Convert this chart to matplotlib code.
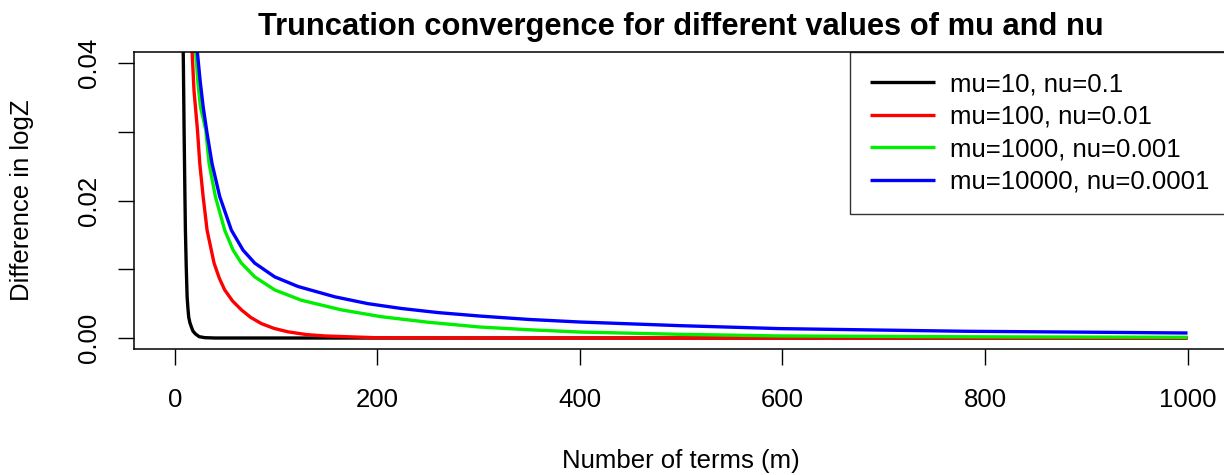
import matplotlib
matplotlib.use("Agg")
import matplotlib.pyplot as plt

# ---- data ----
black_x = [7, 8, 8.5, 9.2, 10, 10.5, 11.3, 12.2, 13, 13.8, 15, 16.4, 18, 20.4, 24, 29.6, 40, 1000]
black_y = [0.060, 0.045, 0.040, 0.0303, 0.021, 0.0157, 0.0105, 0.0060, 0.0043, 0.0030, 0.0022,
           0.0016, 0.0010, 0.0006, 0.0002, 0.00005, 0.0, 0.0]

red_x = [15, 17, 19, 22.4, 24.7, 28, 31.9, 38.8, 44, 49.3, 57, 65.8, 75, 85.5, 98, 111.8, 130,
         148, 197, 300, 1000]
red_y = [0.052, 0.042, 0.036, 0.0303, 0.0254, 0.0206, 0.0157, 0.0109, 0.0087, 0.0070, 0.0054,
         0.0041, 0.0030, 0.0021, 0.0014, 0.0009, 0.0005, 0.0003, 0.00005, 0.0, 0.0]

green_x = [18, 20.7, 23, 25.3, 28, 30.6, 33.9, 40.1, 49.3, 57.6, 65.8, 79, 98.7, 125, 164.5,
           204, 250, 301, 350, 400, 498, 597, 781, 1000]
green_y = [0.050, 0.0415, 0.037, 0.0337, 0.032, 0.0303, 0.0254, 0.0206, 0.0157, 0.0128, 0.0109,
           0.0089, 0.0070, 0.0055, 0.0041, 0.0031, 0.0023, 0.0016, 0.0012, 0.00087, 0.00054,
           0.0003, 0.00018, 0.0001]

blue_x = [20, 22.4, 25, 28, 31.9, 36.8, 44.4, 55.9, 67.4, 79, 98.7, 121.7, 158, 190.8, 223.7,
          260, 301, 350, 400, 498.5, 597, 700, 781.5, 900, 1000]
blue_y = [0.048, 0.0415, 0.0375, 0.0337, 0.0298, 0.0254, 0.0206, 0.0157, 0.0128, 0.0109, 0.0089,
          0.0075, 0.0060, 0.0050, 0.0043, 0.0037, 0.0032, 0.0027, 0.00233, 0.0018, 0.00137,
          0.00115, 0.00098, 0.00085, 0.00073]

series_labels = ["mu=10, nu=0.1", "mu=100, nu=0.01", "mu=1000, nu=0.001", "mu=10000, nu=0.0001"]
series_colors = ["black", "red", "#00ee00", "blue"]

x_ticks = [0, 200, 400, 600, 800, 1000]
y_ticks = [0.00, 0.01, 0.02, 0.03, 0.04]
y_tick_labels = ["0.00", "", "0.02", "", "0.04"]

title = "Truncation convergence for different values of mu and nu"
x_label = "Number of terms (m)"
y_label = "Difference in logZ"

# ---- figure ----
plt.rcParams["font.family"] = ["Liberation Sans", "DejaVu Sans"]
FS = 18.5
W, H = 1224, 475
fig = plt.figure(figsize=(W / 100, H / 100), dpi=100)

ax_l, ax_r, ax_t, ax_b = 134.3, 1228.0, 52.3, 349.0
ax = fig.add_axes([ax_l / W, 1 - ax_b / H, (ax_r - ax_l) / W, (ax_b - ax_t) / H])

xs = [black_x, red_x, green_x, blue_x]
ys = [black_y, red_y, green_y, blue_y]
for xv, yv, c, lab in zip(xs, ys, series_colors, series_labels):
    ax.plot(xv, yv, color=c, lw=2.4, label=lab, solid_capstyle="butt", solid_joinstyle="round")

ax.set_xlim(-39.96, 1039.96)
ax.set_ylim(-0.0016, 0.0416)
ax.set_xticks(x_ticks)
ax.set_xticklabels([str(t) for t in x_ticks])
ax.set_yticks(y_ticks)
ax.set_yticklabels(y_tick_labels, rotation=90, va="center")

for s in ax.spines.values():
    s.set_linewidth(1.1)
    s.set_color("black")

ax.tick_params(axis="both", direction="out", length=11.5, width=1.0, colors="black",
               labelsize=FS)
ax.tick_params(axis="x", pad=16.5)
ax.tick_params(axis="y", pad=12.5)

ax_h = ax_b - ax_t
ax_w = ax_r - ax_l
ax.set_xlabel(x_label, fontsize=FS, va="center")
ax.xaxis.set_label_coords(0.5, -(461 - ax_b) / ax_h)
ax.set_ylabel(y_label, fontsize=FS, va="center")
ax.yaxis.set_label_coords(-(ax_l - 22) / ax_w, 0.5)

ax.text((681 - ax_l) / ax_w, (ax_b - 35) / ax_h, title, transform=ax.transAxes,
        ha="center", va="baseline", fontsize=FS * 1.2, fontweight="bold")

leg_x0 = (850 - ax_l) / ax_w
leg = ax.legend(loc="upper left", bbox_to_anchor=(leg_x0, 0, 1 - leg_x0, 1.0), mode="expand",
                borderaxespad=0, fontsize=FS, frameon=True, fancybox=False,
                handlelength=2.54, handletextpad=0.58, borderpad=0.78, labelspacing=0.33)
leg.get_frame().set_edgecolor("black")
leg.get_frame().set_linewidth(1.0)
for h in leg.get_lines():
    h.set_linewidth(2.4)

fig.savefig("out.png", dpi=100)
